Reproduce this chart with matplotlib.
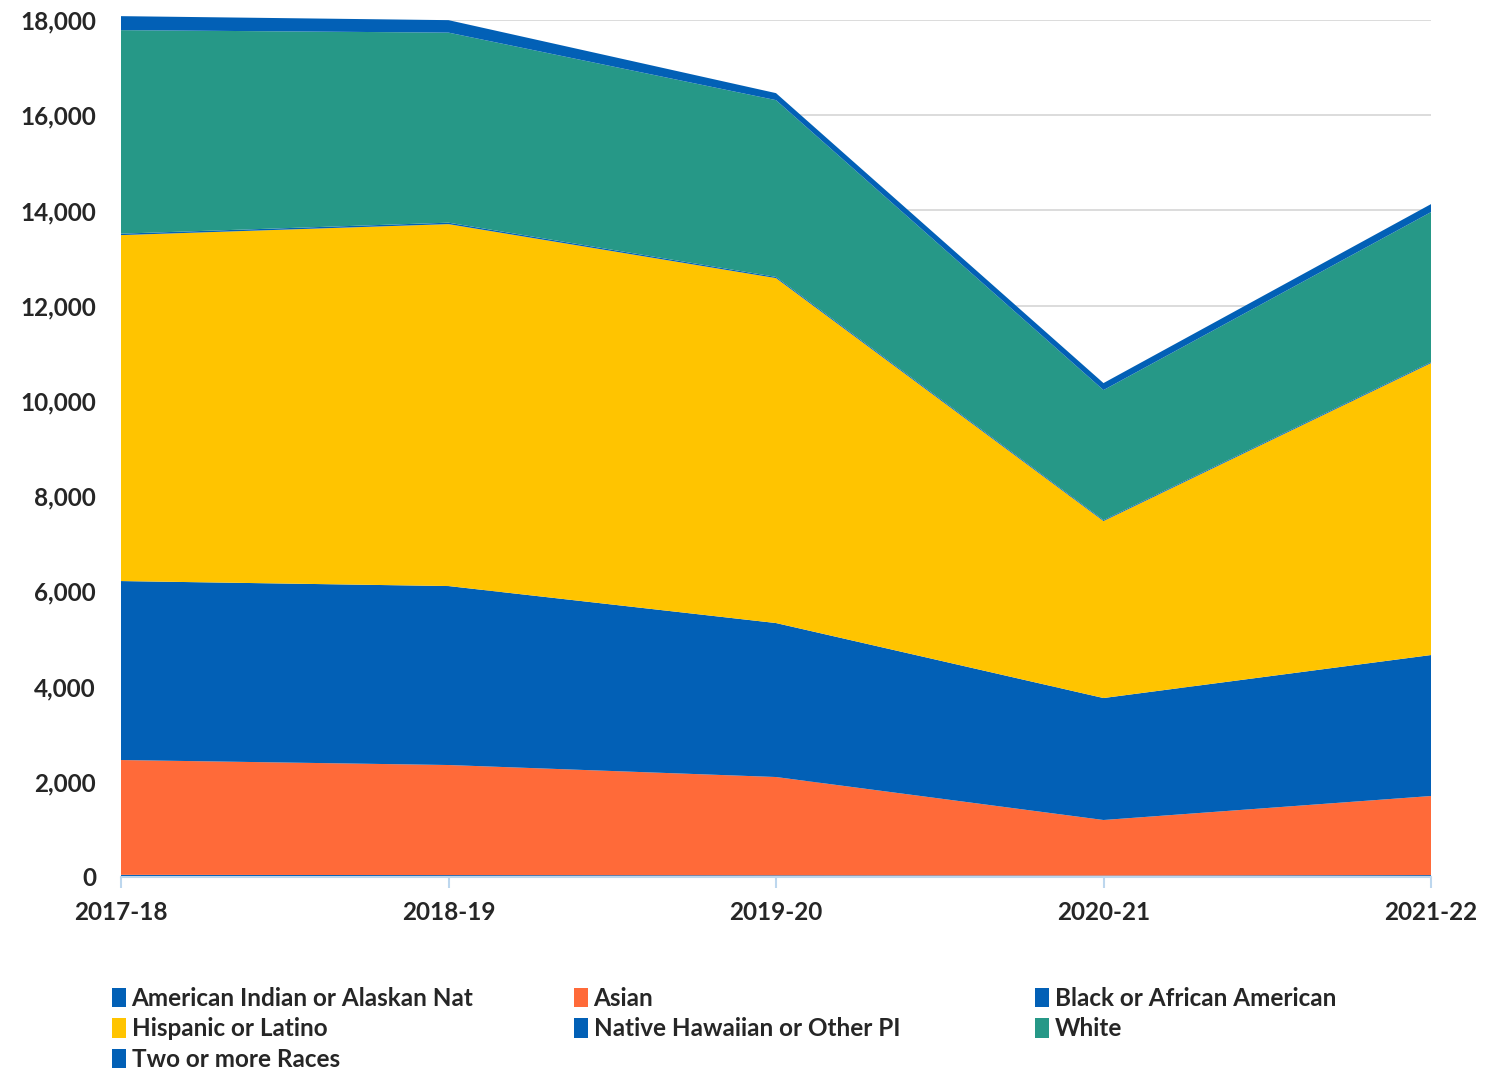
import matplotlib
matplotlib.use("Agg")
import matplotlib.pyplot as plt
import matplotlib.ticker as mticker
import numpy as np

years = ["2017-18", "2018-19", "2019-20", "2020-21", "2021-22"]
american_indian = [45, 40, 35, 30, 40]
asian = [2412, 2312, 2065, 1167, 1661]
black = [3759, 3759, 3234, 2562, 2961]
hispanic = [7266, 7602, 7245, 3717, 6132]
native_hawaiian = [30, 30, 25, 20, 20]
white = [4275, 3992, 3713, 2731, 3151]
two_or_more = [294, 262, 147, 147, 168]

labels = ["American Indian or Alaskan Nat", "Asian", "Black or African American",
          "Hispanic or Latino", "Native Hawaiian or Other PI", "White",
          "Two or more Races"]

_BLUE = "#0260B6"
colors = [_BLUE, "#FF6A39", _BLUE, "#FFC400", _BLUE, "#269887", _BLUE]
_TXT = "#262626"
FONT = "Lato"
W, H = 1506, 1069

fig = plt.figure(figsize=(W / 100, H / 100), dpi=100)
ax = fig.add_axes([121 / W, 192 / H, 1310 / W, 857 / H])

x = np.arange(len(years))
polys = ax.stackplot(x, american_indian, asian, black, hispanic, native_hawaiian,
                     white, two_or_more, colors=colors, labels=labels,
                     linewidth=0, zorder=2)
for p in polys:
    p.set_clip_on(False)  # top layer pokes slightly above 18,000

ax.set_xlim(0, len(years) - 1)
ax.set_ylim(0, 18000)
ax.set_yticks(np.arange(0, 18001, 2000))
ax.yaxis.set_major_formatter(mticker.StrMethodFormatter("{x:,.0f}"))
ax.grid(axis="y", color="#D9D9D9", linewidth=1.3, zorder=0)
ax.set_axisbelow(True)

ax.set_xticks(x)
ax.set_xticklabels(years)
for spine in ["top", "right", "left"]:
    ax.spines[spine].set_visible(False)
ax.spines["bottom"].set_color("#BDD7EE")
ax.spines["bottom"].set_linewidth(1.5)
ax.spines["bottom"].set_zorder(3)
ax.tick_params(axis="x", length=8, width=1.5, color="#BDD7EE", pad=9,
               labelsize=17.5, labelcolor=_TXT)
ax.tick_params(axis="y", length=0, pad=18, labelsize=17.5, labelcolor=_TXT)
for lbl in ax.get_xticklabels() + ax.get_yticklabels():
    lbl.set_fontfamily(FONT)
    lbl.set_fontweight("bold")

# legend laid out row-wise in three fixed columns, like the original
col_x = [100, 562, 1023]
for c in range(3):
    idx = list(range(c, len(labels), 3))
    leg = fig.legend([polys[i] for i in idx], [labels[i] for i in idx],
                     loc="upper left", bbox_to_anchor=(col_x[c] / W, 1 - 975 / H),
                     frameon=False, handlelength=0.55, handleheight=0.85,
                     handletextpad=0.25, labelspacing=0.3, borderpad=0,
                     prop={"family": FONT, "weight": "bold", "size": 17.5})
    for t in leg.get_texts():
        t.set_color(_TXT)

fig.savefig("out.png", dpi=100, facecolor="white")
